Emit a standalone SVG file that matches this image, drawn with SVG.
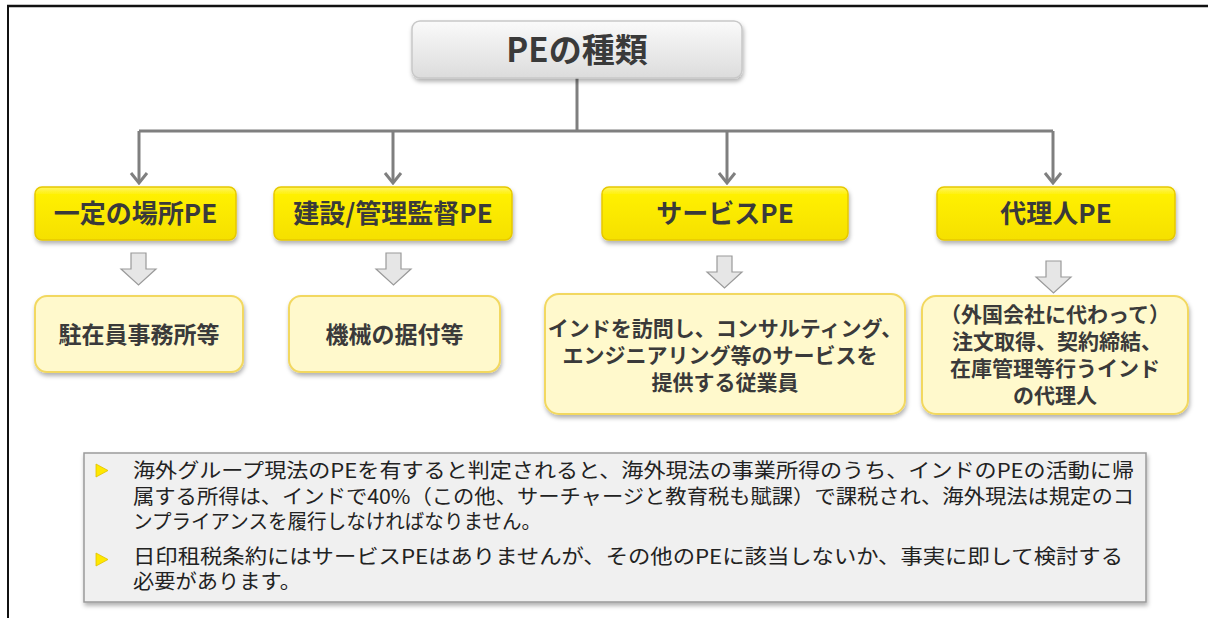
<svg xmlns="http://www.w3.org/2000/svg" width="1208" height="618" viewBox="0 0 1208 618">
<style>
.t{font-family:"Noto Sans CJK JP","Liberation Sans",sans-serif;fill:#3a3a3a;text-anchor:middle;font-weight:bold}
.root{font-size:33px}
.lab{font-size:26px}
.sub{font-size:23px}
.sub2{font-size:21px}
.note{font-family:"Noto Sans CJK JP","Liberation Sans",sans-serif;fill:#222;font-size:20px}
.conn{stroke:#7f7f7f;stroke-width:3;fill:none}
.yb{fill:url(#yg);stroke:#e6c800;stroke-width:1.5;filter:url(#sh)}
.lb{fill:#fff9cc;stroke:#f2d860;stroke-width:2;filter:url(#sh)}
.ba{fill:#e6e6e6;stroke:#9a9a9a;stroke-width:1.2}
.bul{fill:#ffe800;stroke:#e0c000;stroke-width:0.8}
</style>
<defs>
<linearGradient id="yg" x1="0" y1="0" x2="0" y2="1">
<stop offset="0" stop-color="#fff566"/>
<stop offset="0.15" stop-color="#fff000"/>
<stop offset="1" stop-color="#f5e000"/>
</linearGradient>
<linearGradient id="gg" x1="0" y1="0" x2="0" y2="1">
<stop offset="0" stop-color="#fafafa"/>
<stop offset="1" stop-color="#dcdcdc"/>
</linearGradient>
<filter id="sh" x="-10%" y="-20%" width="120%" height="150%">
<feDropShadow dx="1" dy="3" stdDeviation="2" flood-color="#000" flood-opacity="0.3"/>
</filter>
<marker id="arr" viewBox="-12 -10 14 20" refX="0" refY="0" markerWidth="14" markerHeight="20" markerUnits="userSpaceOnUse" orient="auto">
<path d="M-10,-8 L0,0 L-10,8" fill="none" stroke="#7f7f7f" stroke-width="3"/>
</marker>
</defs>
<rect width="1208" height="618" fill="#fff"/>
<g id="frame">
<line x1="7" y1="6" x2="1208" y2="6" stroke="#111" stroke-width="2.5"/>
<line x1="8" y1="5" x2="8" y2="618" stroke="#111" stroke-width="2"/>
</g>
<g id="connectors">
<path class="conn" d="M577,78 V131"/>
<path class="conn" d="M139,131 H1053"/>
<path class="conn" d="M139,131 V183" marker-end="url(#arr)"/>
<path class="conn" d="M393,131 V183" marker-end="url(#arr)"/>
<path class="conn" d="M727,131 V183" marker-end="url(#arr)"/>
<path class="conn" d="M1053,131 V183" marker-end="url(#arr)"/>
<path class="ba" d="M131,253 H146 V269 H156 L138.5,285 L121,269 H131 Z"/>
<path class="ba" d="M386,253 H401 V269 H411 L393.5,285 L376,269 H386 Z"/>
<path class="ba" d="M717,256 H732 V272 H742 L724.5,288 L707,272 H717 Z"/>
<path class="ba" d="M1046,261 H1061 V277 H1071 L1053.5,293 L1036,277 H1046 Z"/>
</g>
<g id="root">
<rect x="412" y="21" width="330" height="57" rx="8" fill="url(#gg)" stroke="#c8c8c8" stroke-width="1.5" filter="url(#sh)"/>
<text class="t root" x="577" y="62">PEの種類</text>
</g>
<g id="n1">
<rect class="yb" x="35" y="187" width="201" height="53" rx="7"/>
<text class="t lab" x="135.5" y="223">一定の場所PE</text>
</g>
<g id="n2">
<rect class="yb" x="274" y="187" width="238" height="53" rx="7"/>
<text class="t lab" x="393" y="223">建設/管理監督PE</text>
</g>
<g id="n3">
<rect class="yb" x="602" y="187" width="246" height="53" rx="7"/>
<text class="t lab" x="725" y="223">サービスPE</text>
</g>
<g id="n4">
<rect class="yb" x="937" y="187" width="238" height="53" rx="7"/>
<text class="t lab" x="1056" y="223">代理人PE</text>
</g>
<g id="d1">
<rect class="lb" x="35" y="296" width="208" height="76" rx="12"/>
<text class="t sub" x="139" y="343">駐在員事務所等</text>
</g>
<g id="d2">
<rect class="lb" x="289" y="296" width="211" height="76" rx="12"/>
<text class="t sub" x="394.5" y="343">機械の据付等</text>
</g>
<g id="d3">
<rect class="lb" x="545" y="294" width="360" height="120" rx="14"/>
<text class="t sub2" x="725" y="336">インドを訪問し、コンサルティング、</text>
<text class="t sub2" x="720" y="363">エンジニアリング等のサービスを</text>
<text class="t sub2" x="725" y="390">提供する従業員</text>
</g>
<g id="d4">
<rect class="lb" x="922" y="296" width="266" height="118" rx="14"/>
<text class="t sub2" x="1055" y="322">（外国会社に代わって）</text>
<text class="t sub2" x="1057" y="349">注文取得、契約締結、</text>
<text class="t sub2" x="1055" y="376">在庫管理等行うインド</text>
<text class="t sub2" x="1055" y="403">の代理人</text>
</g>
<g id="notes">
<rect x="84" y="453" width="1062" height="149" fill="#f0f0f0" stroke="#9a9a9a" stroke-width="1.5" filter="url(#sh)"/>
<path class="bul" d="M96,464 L108,470.5 L96,477 Z"/>
<path class="bul" d="M96,553 L108,559.5 L96,566 Z"/>
<text class="note" x="133" y="478" textLength="1001" lengthAdjust="spacingAndGlyphs">海外グループ現法のPEを有すると判定されると、海外現法の事業所得のうち、インドのPEの活動に帰</text>
<text class="note" x="133" y="504" textLength="1001" lengthAdjust="spacingAndGlyphs">属する所得は、インドで40%（この他、サーチャージと教育税も賦課）で課税され、海外現法は規定のコ</text>
<text class="note" x="133" y="529" textLength="408" lengthAdjust="spacingAndGlyphs">ンプライアンスを履行しなければなりません。</text>
<text class="note" x="133" y="564" textLength="990" lengthAdjust="spacingAndGlyphs">日印租税条約にはサービスPEはありませんが、その他のPEに該当しないか、事実に即して検討する</text>
<text class="note" x="133" y="589" textLength="168" lengthAdjust="spacingAndGlyphs">必要があります。</text>
</g>
</svg>
